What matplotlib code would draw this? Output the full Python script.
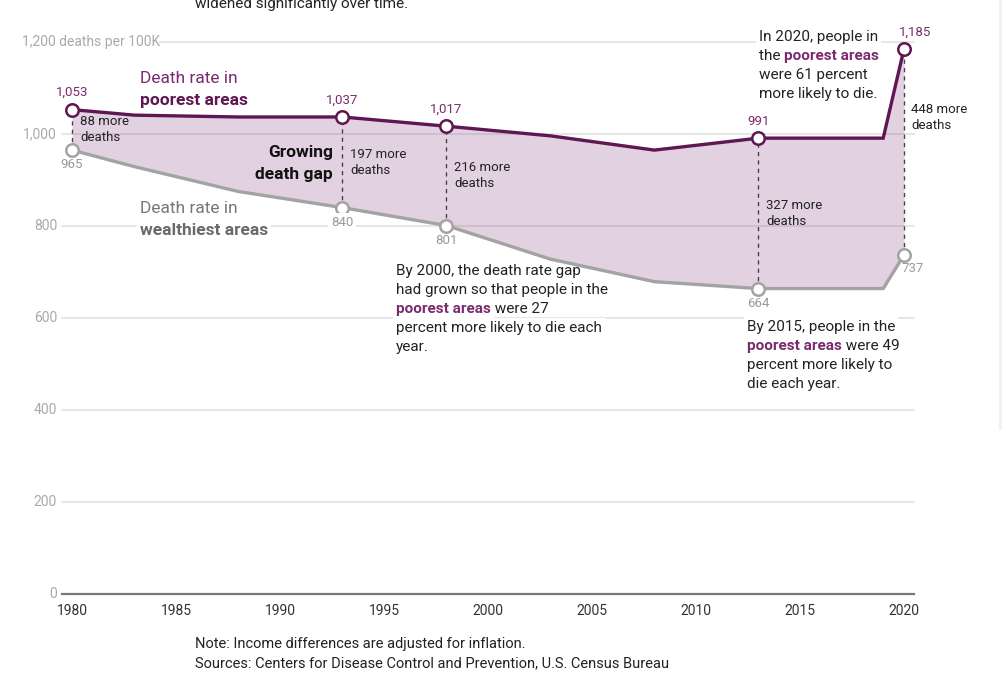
import matplotlib; matplotlib.use("Agg")
import matplotlib.pyplot as plt
from matplotlib.patches import Rectangle

PURPLE = "#5e1752"; PLAB = "#7a2a6e"; GRAY = "#a3a3a3"; GLAB = "#9a9a9a"
INK = "#222222"; GRID = "#e2e2e2"; FILL = "#8e4a85"
plt.rcParams.update({"font.family": ["Roboto", "DejaVu Sans"]})

years = [1980, 1983, 1988, 1993, 1998, 2003, 2008, 2013, 2019, 2020]
poorest = [1053, 1041, 1037, 1037, 1017, 996, 965, 991, 991, 1185]
wealthiest = [965, 929, 875, 840, 801, 728, 679, 664, 664, 737]
marked = [1980, 1993, 1998, 2013, 2020]
poor_lbl = ["1,053", "1,037", "1,017", "991", "1,185"]
wealth_lbl = ["965", "840", "801", "664", "737"]
gap_lbl = ["88 more\ndeaths", "197 more\ndeaths", "216 more\ndeaths", "327 more\ndeaths", "448 more\ndeaths"]
yticks = [0, 200, 400, 600, 800, 1000, 1200]
ytick_lbl = ["0", "200", "400", "600", "800", "1,000", "1,200 deaths per 100K"]
xticks = [1980, 1985, 1990, 1995, 2000, 2005, 2010, 2015, 2020]

# pixel -> data helper (1980 at x=72, 20.8 px/yr; 0 at y=594, 0.46 px/unit)
def P(x, y):
    return 1980 + (x - 72) / 20.8, (594 - y) / 0.46

fig = plt.figure(figsize=(10.03, 6.85), dpi=100)
ax = fig.add_axes([0, 0, 1, 1])
ax.set_xlim(P(0, 0)[0], P(1003, 0)[0]); ax.set_ylim(P(0, 685)[1], P(0, 0)[1])
ax.axis("off")
W = dict(fc="white", ec="none", pad=2)

x0, x1 = P(62, 0)[0], P(914, 0)[0]
for v, lab in zip(yticks, ytick_lbl):
    ax.plot([x0 if v != 1200 else P(160, 0)[0], x1], [v, v], color="#777777" if v == 0 else GRID,
            lw=1.6 if v == 0 else 1.2, zorder=1)
    if v == 1200:
        ax.text(P(22, 0)[0], v, lab, ha="left", va="center", fontsize=10, color="#aaaaaa")
    else:
        ax.text(P(57, 0)[0], v, lab, ha="right", va="center", fontsize=10, color="#aaaaaa")
for t in xticks:
    ax.text(t, P(0, 611)[1], str(t), ha="center", va="center", fontsize=10, color="#333333")

ax.fill_between(years, wealthiest, poorest, color=FILL, alpha=0.25, lw=0, zorder=2)
ax.plot(years, poorest, color=PURPLE, lw=2.4, zorder=3, solid_joinstyle="miter")
ax.plot(years, wealthiest, color=GRAY, lw=2.4, zorder=3, solid_joinstyle="miter")

for i, yr in enumerate(marked):
    p = poorest[years.index(yr)]; w = wealthiest[years.index(yr)]
    ax.plot([yr, yr], [w, p], color="#444444", lw=1, ls=(0, (3, 3)), zorder=2.5)
    ax.plot(yr, p, "o", ms=9, mfc="white", mec=PURPLE, mew=1.8, zorder=4)
    ax.plot(yr, w, "o", ms=9, mfc="white", mec=GRAY, mew=1.8, zorder=4)
    if yr == 2020:
        ax.text(yr + 0.55, p + 37, poor_lbl[i], ha="center", va="center", fontsize=9.5, color=PLAB)
        ax.text(yr + 0.4, w - 30, wealth_lbl[i], ha="center", va="center", fontsize=9.5, color=GLAB)
        ax.text(yr + 0.35, 1035, gap_lbl[i], ha="left", va="center", fontsize=9.5, color=INK, linespacing=1.3)
    else:
        ax.text(yr, p + 37, poor_lbl[i], ha="center", va="center", fontsize=9.5, color=PLAB, zorder=5)
        ax.text(yr, w - 32, wealth_lbl[i], ha="center", va="center", fontsize=9.5, color=GLAB, zorder=5,
                bbox=W if yr == 1993 else None)
        gy = (p + w) / 2
        ax.text(yr + 0.38, gy, gap_lbl[i], ha="left", va="center", fontsize=9.5, color=INK, linespacing=1.3, zorder=5)

def mixed(x, y, parts, size, zorder=6, bbox=None):
    t = None
    for s, c, bold in parts:
        kw = dict(fontsize=size, color=c, fontweight="bold" if bold else "normal", zorder=zorder)
        if t is None:
            t = ax.text(x, y, s, ha="left", va="bottom", bbox=bbox, **kw)
        else:
            t = ax.annotate(s, xy=(1, 0), xycoords=t, ha="left", va="bottom", **kw)
    return t

def block(x, y, lines, size, step, bbox=None, zorder=6, box_from=0):
    for j, parts in enumerate(lines):
        px, py = P(x, y + j * step)
        mixed(px, py, parts, size, bbox=bbox if j >= box_from else None, zorder=zorder)

N = INK; B = PLAB
block(140, 86, [[("Death rate in", PLAB, False)], [("poorest areas", PURPLE, True)]], 12.5, 22)
block(140, 216, [[("Death rate in", "#777777", False)], [("wealthiest areas", "#6a6a6a", True)]], 12.5, 22, bbox=W)
for j, s in enumerate(["Growing", "death gap"]):
    ax.text(*P(333, 157 + j * 22), s, ha="right", va="baseline", fontsize=12.5, fontweight="bold", color="#111111", zorder=6)

block(759, 44, [[("In 2020, people in", N, False)], [("the ", N, False), ("poorest areas", B, True)],
                [("were 61 percent", N, False)], [("more likely to die.", N, False)]], 11, 19, bbox=W)
block(396, 278, [[("By 2000, the death rate gap", N, False)], [("had grown so that people in the", N, False)],
                 [("poorest areas", B, True), (" were 27", N, False)],
                 [("percent more likely to die each", N, False)], [("year.", N, False)]], 11, 19,
      bbox=W, zorder=2.8, box_from=2)
block(747, 334, [[("By 2015, people in the", N, False)], [("poorest areas", B, True), (" were 49", N, False)],
                 [("percent more likely to", N, False)], [("die each year.", N, False)]], 11, 19, bbox=W)

fig.text(195 / 1003, 1 - 4 / 685, "widened significantly over time.", fontsize=11, color=INK, va="center")
fig.text(195 / 1003, 1 - 644 / 685, "Note: Income differences are adjusted for inflation.", fontsize=10.5, color=INK, va="center")
fig.text(195 / 1003, 1 - 663 / 685, "Sources: Centers for Disease Control and Prevention, U.S. Census Bureau", fontsize=10.5, color=INK, va="center")
fig.patches.append(Rectangle((999 / 1003, 1 - 430 / 685), 4 / 1003, 430 / 685, transform=fig.transFigure, fc="#f2f2f2", ec="none"))

fig.savefig("out.png", dpi=100, facecolor="white")
